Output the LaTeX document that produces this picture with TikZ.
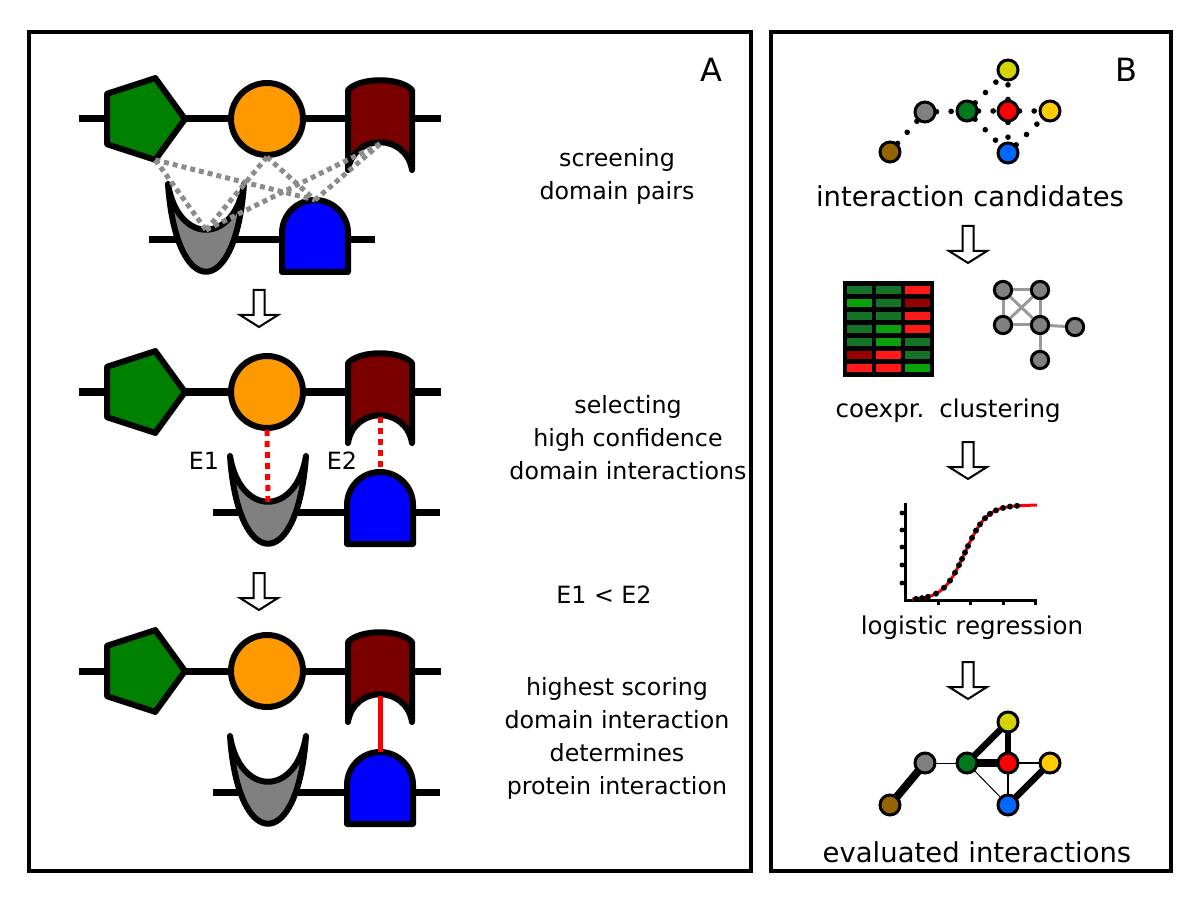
\documentclass[tikz,border=0pt]{standalone}
\usepackage{fontspec}
\newfontfamily\labelfont{DejaVu Sans}

\definecolor{pentgreen}{RGB}{0,128,0}
\definecolor{domorange}{RGB}{255,153,0}
\definecolor{dommaroon}{RGB}{122,0,0}
\definecolor{domgray}{RGB}{128,128,128}
\definecolor{domblue}{RGB}{0,0,255}
\definecolor{pairgray}{RGB}{140,140,140}
\definecolor{netyellow}{RGB}{212,212,0}
\definecolor{netgold}{RGB}{255,204,0}
\definecolor{netgreen}{RGB}{0,120,30}
\definecolor{netblue}{RGB}{0,102,255}
\definecolor{netbrown}{RGB}{150,100,0}
\definecolor{hd}{RGB}{20,115,40}
\definecolor{hg}{RGB}{10,160,10}
\definecolor{hr}{RGB}{255,25,25}
\definecolor{hk}{RGB}{150,0,0}

\tikzset{
  panel/.style={draw=black, line width=2.5pt},
  backbone/.style={line width=5.25pt},
  dom/.style={draw=black, line width=4.5pt, line join=round},
  pairline/.style={draw=pairgray, line width=3.75pt, dash pattern=on 3.75pt off 3pt},
  hitline/.style={draw=red, line width=3.75pt, dash pattern=on 4.5pt off 3.75pt},
  bestline/.style={draw=red, line width=3.75pt},
  txt/.style={font=\labelfont\fontsize{17.8}{24.75}\selectfont, align=center, inner sep=0pt},
  bigtxt/.style={font=\labelfont\fontsize{20.6}{24.75}\selectfont, inner sep=0pt, anchor=base},
  midtxt/.style={font=\labelfont\fontsize{18.4}{24.75}\selectfont, inner sep=0pt, anchor=base},
  paneltxt/.style={font=\labelfont\fontsize{24}{28}\selectfont, inner sep=0pt, anchor=base},
  stepdown/.style={draw=black, line width=1.5pt, fill=white},
  netnode/.style={circle, draw=black, line width=2.25pt, minimum size=15pt, inner sep=0pt},
  clunode/.style={circle, draw=black, line width=2.25pt, fill=domgray, minimum size=13pt, inner sep=0pt},
  candedge/.style={line width=4.2pt, line cap=round, dash pattern=on 0pt off 11pt},
  cluedge/.style={draw=black!40, line width=2.25pt},
  % pic coordinates run with y up
  pics/pentdom/.style={code={
    \draw[dom, fill=pentgreen] (0:43) -- (72:43) -- (144:43) -- (216:43) -- (288:43) -- cycle;
    \coordinate (-bot) at (-72:43);}},
  pics/circdom/.style={code={
    \draw[dom, fill=domorange] (0,0) circle (36);
    \coordinate (-bot) at (0,-38);}},
  pics/recdom/.style={code={
    \draw[dom, fill=dommaroon] (-32,29) .. controls (-20,42) and (20,42) .. (32,29)
      -- (32,-51) .. controls (26,-14) and (-26,-14) .. (-32,-51) -- cycle;
    \coordinate (-bot) at (0,-25);}},
  pics/cupdom/.style={code={
    \draw[dom, fill=domgray] (-38,56) .. controls (-30,-61) and (30,-61) .. (38,56)
      .. controls (28,-5) and (-28,-5) .. cycle;
    \coordinate (-bot) at (0,10);}},
  pics/archdom/.style={code={
    \draw[dom, fill=domblue] (-33,-32) -- (-33,7) arc (180:0:33) -- (33,-32) -- cycle;
    \coordinate (-top) at (0,40);}},
  pics/downarrow/.style={code={
    \draw[stepdown] (-5.5,0) -- (-5.5,-25) -- (-19,-25) -- (0,-37) -- (19,-25) -- (5.5,-25) -- (5.5,0) -- cycle;}}
}

\begin{document}
\begin{tikzpicture}[x=0.75pt,y=0.75pt,yscale=-1,xscale=1]
\useasboundingbox (0,0) rectangle (1200,902);

% Panels
\draw[panel] (29,32) rectangle (751,871);
\draw[panel] (771,32) rectangle (1171,871);
\node[paneltxt] (lblA) at (711,82) {A};
\node[paneltxt] (lblB) at (1126,82) {B};

%% Panel A, row 1: screening
\draw[backbone] (79,119) -- (441,119);
\draw[backbone] (149,240) -- (375,240);
\pic (p1) at (142,119) {pentdom};
\pic (c1) at (267,119) {circdom};
\pic (r1) at (380,119) {recdom};
\pic (u1) at (206,240) {cupdom};
\pic (a1) at (315,240) {archdom};
\draw[pairline] (p1-bot) -- (u1-bot);
\draw[pairline] (p1-bot) -- (a1-top);
\draw[pairline] (c1-bot) -- (u1-bot);
\draw[pairline] (c1-bot) -- (a1-top);
\draw[pairline] (r1-bot) -- (u1-bot);
\draw[pairline] (r1-bot) -- (a1-top);

% Text Node
\node[txt] (tScreen) at (617,176) {screening\\domain pairs};

\pic at (259,290) {downarrow};

%% Panel A, row 2: selecting
\draw[backbone] (79,392) -- (441,392);
\draw[backbone] (213,512) -- (440,512);
\pic (p2) at (142,392) {pentdom};
\pic (c2) at (267,392) {circdom};
\pic (r2) at (380,392) {recdom};
\pic (u2) at (268,512) {cupdom};
\pic (a2) at (380,512) {archdom};
\draw[hitline] (c2-bot) -- (u2-bot);
\draw[hitline] (r2-bot) -- (a2-top);
\node[txt] (e1) at (204,461) {E1};
\node[txt] (e2) at (342,461) {E2};

% Text Node
\node[txt] (tSelect) at (628,438) {selecting\\high confidence\\domain interactions};
% Text Node
\node[txt] (tCompare) at (604,595) {E1 < E2};

\pic at (259,573) {downarrow};

%% Panel A, row 3: best pair
\draw[backbone] (79,671) -- (441,671);
\draw[backbone] (213,792) -- (440,792);
\pic (p3) at (142,671) {pentdom};
\pic (c3) at (267,671) {circdom};
\pic (r3) at (380,671) {recdom};
\pic (u3) at (268,792) {cupdom};
\pic (a3) at (380,792) {archdom};
\draw[bestline] (r3-bot) -- (a3-top);

% Text Node
\node[txt] (tBest) at (617,738) {highest scoring\\domain interaction\\determines\\protein interaction};

%% Panel B: candidate network
\node[netnode, fill=netyellow] (nYt) at (1008,70) {};
\node[netnode, fill=domgray] (nG) at (925,112) {};
\node[netnode, fill=netgreen] (nGr) at (967,111) {};
\node[netnode, fill=red] (nR) at (1008,111) {};
\node[netnode, fill=netgold] (nYr) at (1050,111) {};
\node[netnode, fill=netblue] (nB) at (1008,153) {};
\node[netnode, fill=netbrown] (nBr) at (890,152) {};
\draw[candedge] (nBr) -- (nG);
\draw[candedge] (nG) -- (nGr);
\draw[candedge] (nGr) -- (nR);
\draw[candedge] (nR) -- (nYr);
\draw[candedge] (nR) -- (nYt);
\draw[candedge] (nR) -- (nB);
\draw[candedge] (nGr) -- (nYt);
\draw[candedge] (nGr) -- (nB);
\draw[candedge] (nB) -- (nYr);

% Text Node
\node[bigtxt] (tCand) at (970,207) {interaction candidates};

\pic at (968,226) {downarrow};

% coexpression heat map
\fill[black] (843,281) rectangle (934,377);
\foreach \r/\ca/\cb/\cc in {0/hd/hd/hr,1/hg/hd/hk,2/hd/hd/hr,3/hd/hg/hr,4/hd/hg/hd,5/hk/hr/hd,6/hr/hr/hg}{
  \fill[\ca] (847,{286+13*\r}) rectangle ++(25,8);
  \fill[\cb] (876,{286+13*\r}) rectangle ++(25,8);
  \fill[\cc] (905,{286+13*\r}) rectangle ++(25,8);
}

% cluster graph
\node[clunode] (kTL) at (1003,290) {};
\node[clunode] (kTR) at (1040,290) {};
\node[clunode] (kBL) at (1003,325) {};
\node[clunode] (kM) at (1040,325) {};
\node[clunode] (kR) at (1075,327) {};
\node[clunode] (kB) at (1040,360) {};
\draw[cluedge] (kTL) -- (kTR);
\draw[cluedge] (kTL) -- (kBL);
\draw[cluedge] (kTR) -- (kM);
\draw[cluedge] (kBL) -- (kM);
\draw[cluedge] (kTL) -- (kM);
\draw[cluedge] (kTR) -- (kBL);
\draw[cluedge] (kM) -- (kR);
\draw[cluedge] (kM) -- (kB);

% Text Node
\node[midtxt] (tCoexpr) at (880,417) {coexpr.};
% Text Node
\node[midtxt] (tClust) at (1000,417) {clustering};

\pic at (968,442) {downarrow};

% logistic fit
\draw[line width=2.25pt] (905,503) -- (905,600) -- (1037,600);
\foreach \ty in {513,530,547,565,583} \fill (902,\ty) circle (2.5);
\foreach \tx in {938,970,1003,1035} \draw[line width=2.25pt] (\tx,600) -- (\tx,605);
\draw[red, line width=2.25pt] plot[domain=912:1037, samples=60, smooth] (\x, {600-95/(1+exp(-(\x-965)/11))});
\foreach \px in {916,922,928,936,944,950,955,959,962,965,968,972,976,980,985,990,996,1003,1010,1017}
  \fill (\px, {600-95/(1+exp(-(\px-965)/11))}) circle (3);

% Text Node
\node[midtxt] (tLogit) at (972,634) {logistic regression};

\pic at (968,662) {downarrow};

%% Panel B: evaluated network
\draw[line width=6pt] (890,805) -- (925,763);
\draw[line width=0.75pt] (925,763) -- (967,763);
\draw[line width=6pt] (967,763) -- (1008,763);
\draw[line width=1.5pt] (1008,763) -- (1050,763);
\draw[line width=5pt] (967,763) -- (1008,722);
\draw[line width=5pt] (1008,763) -- (1008,722);
\draw[line width=1.5pt] (1008,763) -- (1008,805);
\draw[line width=0.75pt] (967,763) -- (1008,805);
\draw[line width=5pt] (1008,805) -- (1050,763);
\node[netnode, fill=netyellow] (mYt) at (1008,722) {};
\node[netnode, fill=domgray] (mG) at (925,763) {};
\node[netnode, fill=netgreen] (mGr) at (967,763) {};
\node[netnode, fill=red] (mR) at (1008,763) {};
\node[netnode, fill=netgold] (mYr) at (1050,763) {};
\node[netnode, fill=netblue] (mB) at (1008,805) {};
\node[netnode, fill=netbrown] (mBr) at (890,805) {};

% Text Node
\node[bigtxt] (tEval) at (977,862) {evaluated interactions};

\end{tikzpicture}
\end{document}
